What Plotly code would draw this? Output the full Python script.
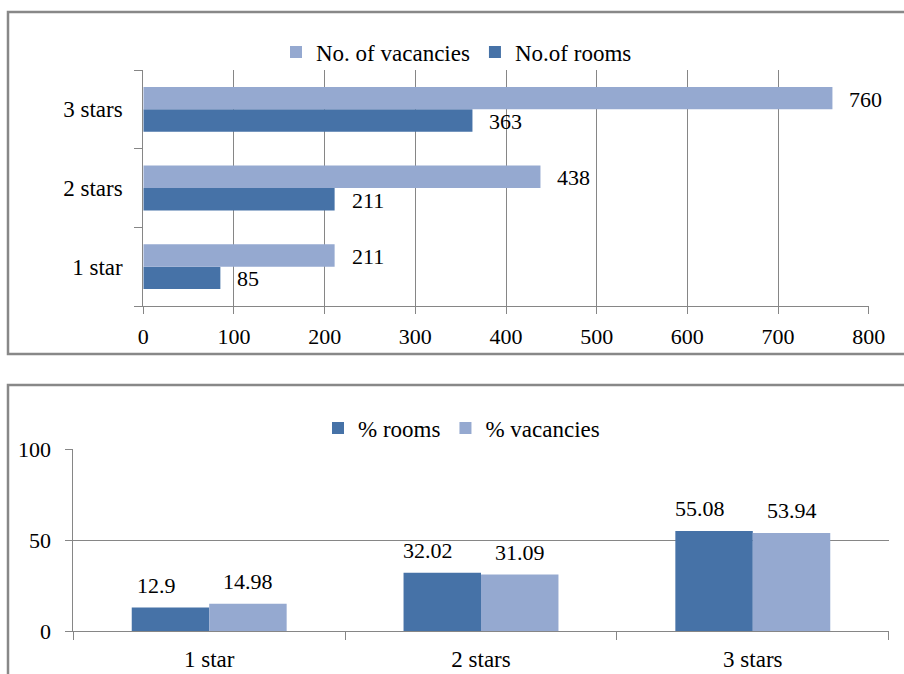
import plotly.graph_objects as go

# ---- data ----
categories = ["1 star", "2 stars", "3 stars"]
rooms = [85, 211, 363]
vacancies = [211, 438, 760]
pct_rooms = [12.9, 32.02, 55.08]
pct_vacancies = [14.98, 31.09, 53.94]
x_ticks_top = [0, 100, 200, 300, 400, 500, 600, 700, 800]
y_ticks_bottom = [0, 50, 100]

# ---- style ----
W, H = 904, 674
FONT = "'Liberation Serif', 'Times New Roman', Tinos, 'DejaVu Serif', serif"
DARK = "#4672A7"
LIGHT = "#95A9D0"
GRID = "#868686"
BORDER = "#888888"
BARGAP = 0.43
NUM_FONT = dict(family=FONT, size=22, color="black")
TXT_FONT = dict(family=FONT, size=23, color="black")


def px(x):
    return x / W


def py(y):
    return 1 - y / H


fig = go.Figure()

# top chart (horizontal bars)
fig.add_trace(go.Bar(y=categories, x=rooms, orientation="h", name="No.of rooms",
                     marker=dict(color=DARK, line=dict(width=0)),
                     xaxis="x", yaxis="y", legend="legend", legendrank=2))
fig.add_trace(go.Bar(y=categories, x=vacancies, orientation="h", name="No. of vacancies",
                     marker=dict(color=LIGHT, line=dict(width=0)),
                     xaxis="x", yaxis="y", legend="legend", legendrank=1))

# bottom chart (vertical bars)
fig.add_trace(go.Bar(x=categories, y=pct_rooms, name="% rooms",
                     marker=dict(color=DARK, line=dict(width=0)),
                     xaxis="x2", yaxis="y2", legend="legend2", legendrank=1))
fig.add_trace(go.Bar(x=categories, y=pct_vacancies, name="% vacancies",
                     marker=dict(color=LIGHT, line=dict(width=0)),
                     xaxis="x2", yaxis="y2", legend="legend2", legendrank=2))

half = (1 - BARGAP) / 4  # half of one bar's thickness in category units
annotations = []
for i, cat in enumerate(categories):
    annotations.append(dict(x=vacancies[i], y=i + half, xref="x", yref="y", text=str(vacancies[i]),
                            showarrow=False, xanchor="left", yanchor="middle", xshift=15, yshift=-1,
                            font=NUM_FONT))
    annotations.append(dict(x=rooms[i], y=i - half, xref="x", yref="y", text=str(rooms[i]),
                            showarrow=False, xanchor="left", yanchor="middle", xshift=15, yshift=-1,
                            font=NUM_FONT))
    annotations.append(dict(x=i - half, y=pct_rooms[i], xref="x2", yref="y2", text=f"{pct_rooms[i]:g}",
                            showarrow=False, xanchor="center", yanchor="bottom", xshift=-14, yshift=8,
                            font=NUM_FONT))
    annotations.append(dict(x=i + half, y=pct_vacancies[i], xref="x2", yref="y2", text=f"{pct_vacancies[i]:g}",
                            showarrow=False, xanchor="center", yanchor="bottom", xshift=0, yshift=8,
                            font=NUM_FONT))

shapes = [
    # top chart frame (right side runs off the picture)
    dict(type="path", xref="paper", yref="paper",
         path=f"M {1.02} {py(12)} L {px(8)} {py(12)} L {px(8)} {py(354)} L {1.02} {py(354)}",
         line=dict(color=BORDER, width=2.5)),
    # bottom chart frame (bottom and right run off the picture)
    dict(type="path", xref="paper", yref="paper",
         path=f"M {1.02} {py(385)} L {px(8)} {py(385)} L {px(8)} {-0.1}",
         line=dict(color=BORDER, width=2.5)),
]

fig.update_layout(
    width=W, height=H,
    margin=dict(l=0, r=0, t=0, b=0, pad=0, autoexpand=False),
    paper_bgcolor="white", plot_bgcolor="white",
    font=NUM_FONT,
    barmode="group", bargap=BARGAP, bargroupgap=0,
    showlegend=True,
    xaxis=dict(domain=[px(143.3), px(868.7)], range=[0, 800], tickvals=x_ticks_top,
               showgrid=True, gridcolor=GRID, gridwidth=1,
               showline=True, linecolor=GRID, linewidth=1, zeroline=False,
               ticks="outside", ticklen=7, tickcolor=GRID, tickfont=NUM_FONT,
               ticklabelstandoff=4, anchor="y", fixedrange=True, automargin=False),
    yaxis=dict(domain=[py(306), py(70)], type="category", categoryorder="array",
               categoryarray=categories, showgrid=False,
               showline=True, linecolor=GRID, linewidth=1, zeroline=False,
               ticks="outside", ticklen=8, tickcolor=GRID, tickson="boundaries",
               tickfont=TXT_FONT, ticklabelstandoff=15, anchor="x", fixedrange=True,
               automargin=False),
    xaxis2=dict(domain=[px(73.3), px(888.7)], type="category", categoryorder="array",
                categoryarray=categories, showgrid=False,
                showline=True, linecolor=GRID, linewidth=1, zeroline=False,
                ticks="outside", ticklen=8, tickcolor=GRID, tickson="boundaries",
                tickfont=TXT_FONT, ticklabelstandoff=7, anchor="y2", fixedrange=True,
                automargin=False),
    yaxis2=dict(domain=[py(631), py(449.3)], range=[0, 100], tickvals=y_ticks_bottom,
                showgrid=True, gridcolor=GRID, gridwidth=1,
                showline=True, linecolor=GRID, linewidth=1, zeroline=False,
                ticks="outside", ticklen=7, tickcolor=GRID, tickfont=NUM_FONT,
                ticklabelstandoff=10, anchor="x2", fixedrange=True, automargin=False),
    legend=dict(orientation="h", x=px(276), xanchor="left", y=py(52), yanchor="middle",
                font=TXT_FONT, bgcolor="rgba(0,0,0,0)",
                itemclick=False, itemdoubleclick=False),
    legend2=dict(orientation="h", x=px(318), xanchor="left", y=py(428), yanchor="middle",
                 font=TXT_FONT, bgcolor="rgba(0,0,0,0)",
                 itemclick=False, itemdoubleclick=False),
    annotations=annotations,
    shapes=shapes,
)

fig.write_html(
    "out.html",
    config={"displayModeBar": False},
    post_script="document.body.style.margin='0';document.body.style.overflow='hidden';",
)
